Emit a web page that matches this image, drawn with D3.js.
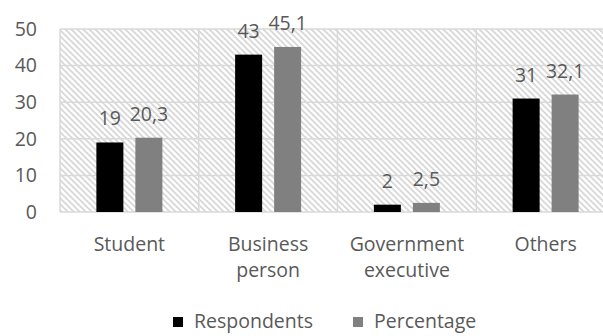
<!DOCTYPE html>
<html>
<head>
<meta charset="utf-8">
<script src="https://cdn.jsdelivr.net/npm/d3@7"></script>
<style>
body { margin: 0; background: #fff; }
svg { display: block; }
text { font-family: "Open Sans", "Noto Sans", sans-serif; fill: #595959; }
</style>
</head>
<body>
<div id="chart"></div>
<script>
var categories = [["Student"], ["Business", "person"], ["Government", "executive"], ["Others"]];
var respondents = [19, 43, 2, 31];
var percentage = [20.3, 45.1, 2.5, 32.1];
var seriesNames = ["Respondents", "Percentage"];
var seriesColors = ["#000000", "#808080"];
var yTicks = [0, 10, 20, 30, 40, 50];

var width = 603, height = 336;
var plotLeft = 60, plotRight = 615, plotTop = 29, plotBottom = 212;
var fs = 19.5;

var svg = d3.select("#chart").append("svg")
	.attr("width", width)
	.attr("height", height);

// hatch fill of the plot area
var pat = svg.append("defs").append("pattern")
	.attr("id", "hatch")
	.attr("patternUnits", "userSpaceOnUse")
	.attr("width", 6)
	.attr("height", 6);
pat.append("rect").attr("width", 6).attr("height", 6).attr("fill", "#fff");
pat.append("path")
	.attr("d", "M-1,-1 L7,7 M-1,5 L1,7 M5,-1 L7,1")
	.attr("stroke", "#d6d6d6")
	.attr("stroke-width", 1.6);

var x = d3.scaleBand()
	.domain(d3.range(categories.length))
	.range([plotLeft, plotRight]);

var y = d3.scaleLinear()
	.domain([0, 50])
	.range([plotBottom, plotTop]);

svg.append("rect")
	.attr("x", plotLeft)
	.attr("y", plotTop)
	.attr("width", plotRight - plotLeft)
	.attr("height", plotBottom - plotTop)
	.attr("fill", "url(#hatch)");

// gridlines
svg.append("g").selectAll("line")
	.data(yTicks)
	.enter().append("line")
		.attr("x1", plotLeft).attr("x2", plotRight)
		.attr("y1", d => y(d)).attr("y2", d => y(d))
		.attr("stroke", "#d9d9d9")
		.attr("stroke-width", 1.5);

svg.append("g").selectAll("line")
	.data(d3.range(categories.length + 1))
	.enter().append("line")
		.attr("x1", d => plotLeft + d * x.step()).attr("x2", d => plotLeft + d * x.step())
		.attr("y1", plotTop).attr("y2", plotBottom)
		.attr("stroke", "#d9d9d9")
		.attr("stroke-width", 1.5);

// y axis labels
var yAxis = svg.append("g")
	.attr("transform", "translate(" + (plotLeft - 23) + ",0)")
	.call(d3.axisLeft(y).tickValues(yTicks).tickSize(0).tickPadding(0));
yAxis.select(".domain").remove();
yAxis.selectAll("text")
	.attr("font-size", fs)
	.attr("font-family", null)
	.attr("fill", "#595959");

// bars
var series = [respondents, percentage];
var barW = 27, gap = 12;
series.forEach(function(vals, si) {
	var off = si === 0 ? -(gap / 2 + barW) : gap / 2;
	var g = svg.append("g");
	g.selectAll("rect")
		.data(vals)
		.enter().append("rect")
			.attr("x", (d, i) => x(i) + x.bandwidth() / 2 + off)
			.attr("y", d => y(d))
			.attr("width", barW)
			.attr("height", d => plotBottom - y(d))
			.attr("fill", seriesColors[si]);
	g.selectAll("text")
		.data(vals)
		.enter().append("text")
			.attr("x", (d, i) => x(i) + x.bandwidth() / 2 + off + barW / 2)
			.attr("y", d => y(d) - 17)
			.attr("text-anchor", "middle")
			.attr("font-size", fs)
			.text(d => String(d).replace(".", ","));
});

// category labels
var catG = svg.append("g").selectAll("text")
	.data(categories)
	.enter().append("text")
		.attr("x", (d, i) => x(i) + x.bandwidth() / 2)
		.attr("y", 251)
		.attr("text-anchor", "middle")
		.attr("font-size", fs);
catG.selectAll("tspan")
	.data(d => d)
	.enter().append("tspan")
		.attr("x", function() { return this.parentNode.getAttribute("x"); })
		.attr("dy", (d, i) => i === 0 ? 0 : 26)
		.text(d => d);

// legend
var legendX = [173, 353];
var leg = svg.append("g").selectAll("g")
	.data(seriesNames)
	.enter().append("g")
		.attr("transform", (d, i) => "translate(" + legendX[i] + ",0)");
leg.append("rect")
	.attr("x", 0).attr("y", 317)
	.attr("width", 10).attr("height", 10)
	.attr("fill", (d, i) => seriesColors[i]);
leg.append("text")
	.attr("x", 21).attr("y", 328)
	.attr("font-size", fs)
	.text(d => d);
</script>
</body>
</html>
